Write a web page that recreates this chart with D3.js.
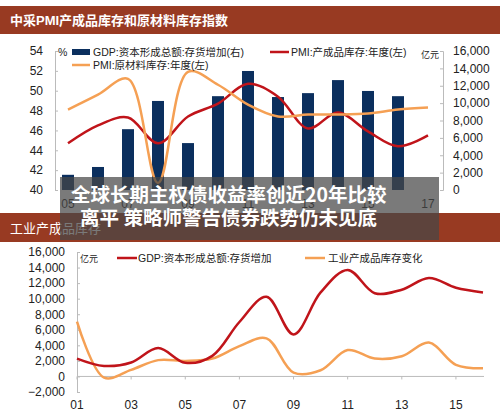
<!DOCTYPE html>
<html><head><meta charset="utf-8">
<script src="https://cdn.jsdelivr.net/npm/d3@7"></script>
<style>
body{margin:0;background:#fff;}
svg{display:block;font-family:"Liberation Sans","Noto Sans CJK SC",sans-serif;}
</style></head>
<body><svg id="c" width="500" height="418"></svg>
<script>
// top chart: years 05..17
const topYears = ['05','06','07','08','09','10','11','12','13','14','15','16','17'];
const topBars = [1750, 2650, 7000, 10250, 5400, 10800, 13700, 10700, 11150, 12650, 11400, 10800, null];
const pmiFinished = [44.7, 46.5, 47.3, 44.7, 47.4, 48.7, 50.7, 49.4, 46.2, 47.8, 45.9, 44.4, 45.5];
const pmiRaw = [48.1, 49.6, 51.2, 40.7, 51.9, 50.6, 48.6, 47.4, 47.6, 47.6, 47.7, 48.1, 48.3];
const leftTicks = [40, 42, 44, 46, 48, 50, 52, 54];
const rightTicks = [0, 2000, 4000, 6000, 8000, 10000, 12000, 14000, 16000];
const topXLabels = ['05','07','09','11','13','15','17'];

// bottom chart: years 01..16
const botYears = d3.range(1, 17);
const gdpInv = [2300, 1350, 1800, 3650, 1750, 2650, 7000, 10250, 5400, 10800, 13700, 10700, 11150, 12650, 11400, 10800];
const indInv = [7050, -150, 850, 2100, 2000, 2300, 3900, 4900, 500, 800, 3400, 2300, 2600, 4350, 1500, 1050];
const botTicks = [-2000, 0, 2000, 4000, 6000, 8000, 10000, 12000, 14000, 16000];
const botXLabels = [1, 3, 5, 7, 9, 11, 13, 15];

const navy = '#0b2f5e', red = '#c0141a', orange = '#f5a054', band = '#983a22';
const svg = d3.select('#c');
const fmt = d3.format(',');

// headers
svg.append('rect').attr('x', 0).attr('y', 6).attr('width', 500).attr('height', 28).attr('fill', band);
svg.append('text').attr('x', 10).attr('y', 25).attr('fill', '#fff').attr('font-size', 13).attr('font-weight', 'bold')
    .text('中采PMI产成品库存和原材料库存指数');
svg.append('rect').attr('x', 0).attr('y', 213).attr('width', 500).attr('height', 29).attr('fill', band);
svg.append('text').attr('x', 10).attr('y', 233).attr('fill', '#fff').attr('font-size', 13)
    .text('工业产成品库存');

// ---- top chart
const xT = d3.scaleLinear().domain([0, 12]).range([68, 428]);
const yL = d3.scaleLinear().domain([40, 54]).range([190, 51]);
const yR = d3.scaleLinear().domain([0, 16000]).range([190, 51]);

const gT = svg.append('g');
gT.selectAll('rect.bar').data(topBars.map((v, i) => ({v, i})).filter(d => d.v != null))
    .enter().append('rect').attr('class', 'bar')
    .attr('x', d => xT(d.i) - 6).attr('width', 12)
    .attr('y', d => yR(d.v)).attr('height', d => yR(0) - yR(d.v))
    .attr('fill', navy);

const lineT = arr => d3.line().x((d, i) => xT(i)).y(d => yL(d)).curve(d3.curveCatmullRom.alpha(0.5))(arr);
gT.append('path').attr('d', lineT(pmiFinished)).attr('fill', 'none').attr('stroke', red).attr('stroke-width', 2.5);
gT.append('path').attr('d', lineT(pmiRaw)).attr('fill', 'none').attr('stroke', orange).attr('stroke-width', 2.5);

const axL = gT.append('g').attr('transform', 'translate(55,0)')
    .call(d3.axisLeft(yL).tickValues(leftTicks).tickSize(-3).tickPadding(12));
const axR = gT.append('g').attr('transform', 'translate(443,0)')
    .call(d3.axisRight(yR).tickValues(rightTicks).tickFormat(fmt).tickSize(-3).tickPadding(10));
[axL, axR].forEach(a => {
    a.select('.domain').attr('stroke', '#bbb');
    a.selectAll('line').attr('stroke', '#bbb');
    a.selectAll('text').attr('font-size', 12).attr('fill', '#222');
});
gT.selectAll('text.xt').data(topXLabels).enter().append('text')
    .attr('x', d => xT(topYears.indexOf(d))).attr('y', 208).attr('text-anchor', 'middle')
    .attr('font-size', 12).attr('fill', '#222').text(d => d);

// top legend
const lg = gT.append('g').attr('font-size', 10.5).attr('fill', '#222');
lg.append('text').attr('x', 58).attr('y', 56).text('%');
lg.append('rect').attr('x', 72).attr('y', 49).attr('width', 18).attr('height', 6).attr('fill', navy);
lg.append('text').attr('x', 93).attr('y', 56).text('GDP:资本形成总额:存货增加(右)');
lg.append('line').attr('x1', 270).attr('x2', 289).attr('y1', 52).attr('y2', 52).attr('stroke', red).attr('stroke-width', 2.5);
lg.append('text').attr('x', 291).attr('y', 56).text('PMI:产成品库存:年度(左)');
lg.append('text').attr('x', 421).attr('y', 58).attr('font-size', 9).text('亿元');
lg.append('line').attr('x1', 72).attr('x2', 90).attr('y1', 65).attr('y2', 65).attr('stroke', orange).attr('stroke-width', 2.5);
lg.append('text').attr('x', 93).attr('y', 69).text('PMI:原材料库存:年度(左)');

// ---- bottom chart
const xB = d3.scaleLinear().domain([1, 16]).range([77, 483]);
const yB = d3.scaleLinear().domain([-2000, 16000]).range([392, 252]);
const gB = svg.append('g');
const axB = gB.append('g').attr('transform', 'translate(77,0)')
    .call(d3.axisLeft(yB).tickValues(botTicks).tickFormat(fmt).tickSize(-3).tickPadding(12));
axB.select('.domain').attr('stroke', '#bbb');
axB.selectAll('line').attr('stroke', '#bbb');
axB.selectAll('text').attr('font-size', 12).attr('fill', '#222');
gB.append('line').attr('x1', 77).attr('x2', 484).attr('y1', yB(0)).attr('y2', yB(0)).attr('stroke', '#bbb');
gB.selectAll('line.xt').data(botXLabels).enter().append('line')
    .attr('x1', d => xB(d)).attr('x2', d => xB(d)).attr('y1', yB(0)).attr('y2', yB(0) + 3).attr('stroke', '#bbb');
gB.selectAll('text.xt').data(botXLabels).enter().append('text')
    .attr('x', d => xB(d)).attr('y', 409).attr('text-anchor', 'middle')
    .attr('font-size', 12).attr('fill', '#222').text(d => d3.format('02')(d));

const lineB = arr => d3.line().x((d, i) => xB(botYears[i])).y(d => yB(d)).curve(d3.curveCatmullRom.alpha(0.5))(arr);
gB.append('path').attr('d', lineB(indInv)).attr('fill', 'none').attr('stroke', orange).attr('stroke-width', 2.5);
gB.append('path').attr('d', lineB(gdpInv)).attr('fill', 'none').attr('stroke', red).attr('stroke-width', 2.5);

const lb = gB.append('g').attr('font-size', 10.5).attr('fill', '#222');
lb.append('text').attr('x', 80).attr('y', 262).attr('font-size', 9).text('亿元');
lb.append('line').attr('x1', 117).attr('x2', 137).attr('y1', 258).attr('y2', 258).attr('stroke', red).attr('stroke-width', 2.5);
lb.append('text').attr('x', 138).attr('y', 262).text('GDP:资本形成总额:存货增加');
lb.append('line').attr('x1', 305).attr('x2', 325).attr('y1', 258).attr('y2', 258).attr('stroke', orange).attr('stroke-width', 2.5);
lb.append('text').attr('x', 328).attr('y', 262).text('工业产成品库存变化');

// overlay caption
svg.append('rect').attr('x', 60).attr('y', 177).attr('width', 379).attr('height', 63).attr('fill', 'rgba(70,70,70,0.72)');
const cap = svg.append('g').attr('fill', '#fff').attr('font-size', 19.5).attr('font-weight', 'bold')
    .attr('font-family', '"Noto Sans CJK SC",sans-serif');
cap.append('text').attr('x', 71).attr('y', 202).text('全球长期主权债收益率创近20年比较');
cap.append('text').attr('x', 80).attr('y', 225).text('离平 策略师警告债券跌势仍未见底');
</script></body></html>
